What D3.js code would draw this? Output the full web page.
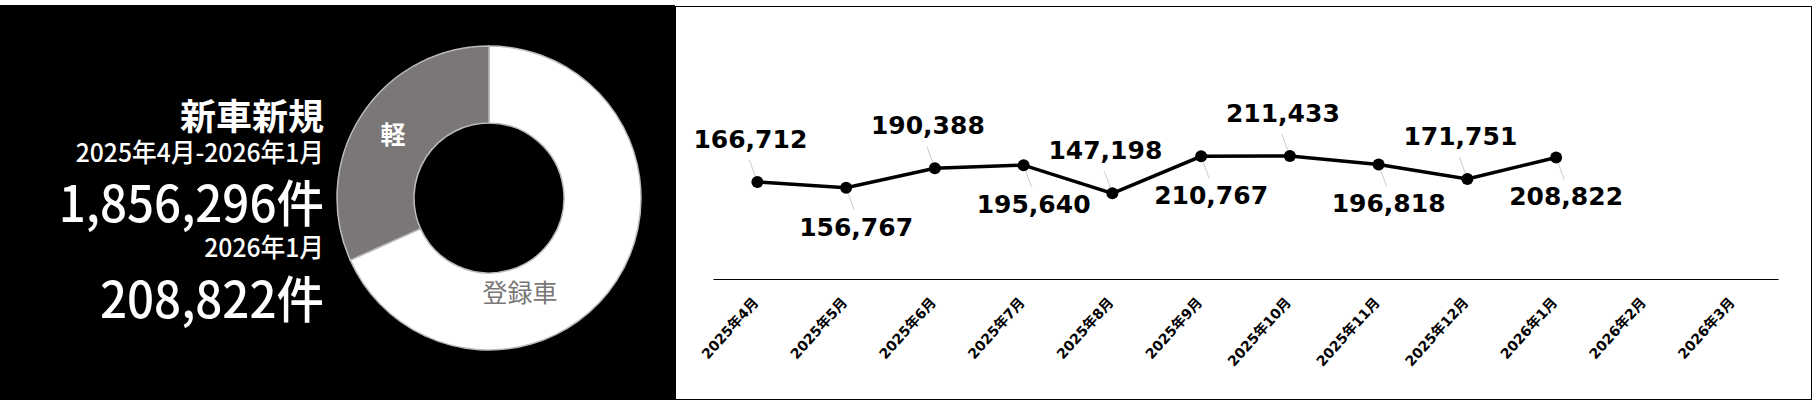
<!DOCTYPE html>
<html><head><meta charset="utf-8">
<script src="https://cdn.jsdelivr.net/npm/d3@7"></script>
<style>body{margin:0;background:#fff}</style></head>
<body><svg id="c" width="1816" height="405"></svg>
<script>
const months = ["2025年4月","2025年5月","2025年6月","2025年7月","2025年8月","2025年9月","2025年10月","2025年11月","2025年12月","2026年1月","2026年2月","2026年3月"];
const values = [166712,156767,190388,195640,147198,210767,211433,196818,171751,208822];
const labelSide = [-1,1,-1,1,-1,1,-1,1,-1,1];
const donutCats = ["登録車","軽"];
const donutShares = [0.683,0.317];
const titleTexts = ["新車新規","2025年4月-2026年1月","1,856,296件","2026年1月","208,822件"];

const svg = d3.select("#c");
const jp = "'Noto Sans CJK JP', sans-serif";
svg.append("rect").attr("x",0).attr("y",5).attr("width",675).attr("height",395).attr("fill","#000");
svg.append("rect").attr("x",675.5).attr("y",6.5).attr("width",1136).attr("height",393).attr("fill","#fff").attr("stroke","#000");

// left texts
const tspec = [[130,36,700,1],[162,26,500,0.95],[222,50,500,0.95],[257,26,500,0.95],[318,50,500,0.95]];
titleTexts.forEach((t,i)=>{
  svg.append("text").attr("transform",`translate(324,${tspec[i][0]}) scale(${tspec[i][3]},1)`)
    .attr("text-anchor","end").attr("fill","#fff").attr("font-family",jp)
    .attr("font-size",tspec[i][1]).attr("font-weight",tspec[i][2]).text(t);
});

// donut
const g = svg.append("g").attr("transform","translate(489,198)");
const pie = d3.pie().sort(null)(donutShares);
const arc = d3.arc().innerRadius(75).outerRadius(152);
g.selectAll("path").data(pie).join("path").attr("d",arc)
  .attr("fill",(d,i)=>i===0?"#fff":"#7a7776").attr("stroke","#bbb").attr("stroke-width",1.5);
const lab = [[520,295,"#7a7776"],[393,137,"#fff"]];
donutCats.forEach((c,i)=>{
  svg.append("text").attr("x",lab[i][0]).attr("y",lab[i][1]).attr("text-anchor","middle")
   .attr("dominant-baseline","middle").attr("fill",lab[i][2]).attr("font-family",jp)
   .attr("font-size",25).attr("font-weight",i===1?700:400).text(c);
});

// line chart
const x = d3.scaleBand().domain(months).range([713,1778]);
const y = d3.scaleLinear().domain([0,250000]).range([279,133.5]);
const cx = m=>x(m)+x.bandwidth()/2;
const ax = svg.append("g").attr("transform","translate(0,279)")
  .call(d3.axisBottom(x).tickSize(0).tickPadding(0));
ax.select(".domain").attr("stroke","#000").attr("stroke-width",1.2);
ax.selectAll("text").attr("font-family","'DejaVu Sans',"+jp).attr("font-weight",700).attr("font-size",14)
  .attr("fill","#000").attr("text-anchor","end").attr("dy",0).attr("y",0)
  .attr("transform","translate(2,24) rotate(-48)");

const pts = values.map((v,i)=>({m:months[i],v,s:labelSide[i]}));
svg.selectAll(".ld").data(pts).join("line")
  .attr("x1",d=>cx(d.m)).attr("y1",d=>y(d.v))
  .attr("x2",d=>cx(d.m)+(d.s<0?-8:8)).attr("y2",d=>y(d.v)+d.s*22)
  .attr("stroke","#ccc").attr("stroke-width",1);
svg.append("path").datum(pts).attr("fill","none").attr("stroke","#000").attr("stroke-width",3.5)
  .attr("d",d3.line().x(d=>cx(d.m)).y(d=>y(d.v)));
svg.selectAll(".pt").data(pts).join("circle").attr("cx",d=>cx(d.m)).attr("cy",d=>y(d.v)).attr("r",6).attr("fill","#000");
svg.selectAll(".vl").data(pts).join("text")
  .attr("x",d=>cx(d.m)+(d.s<0?-7:10)).attr("y",d=>y(d.v)+d.s*41)
  .attr("text-anchor","middle").attr("dominant-baseline","middle")
  .attr("font-family","'DejaVu Sans',sans-serif").attr("font-weight",700).attr("font-size",25)
  .text(d=>d3.format(",")(d.v));
</script></body></html>
